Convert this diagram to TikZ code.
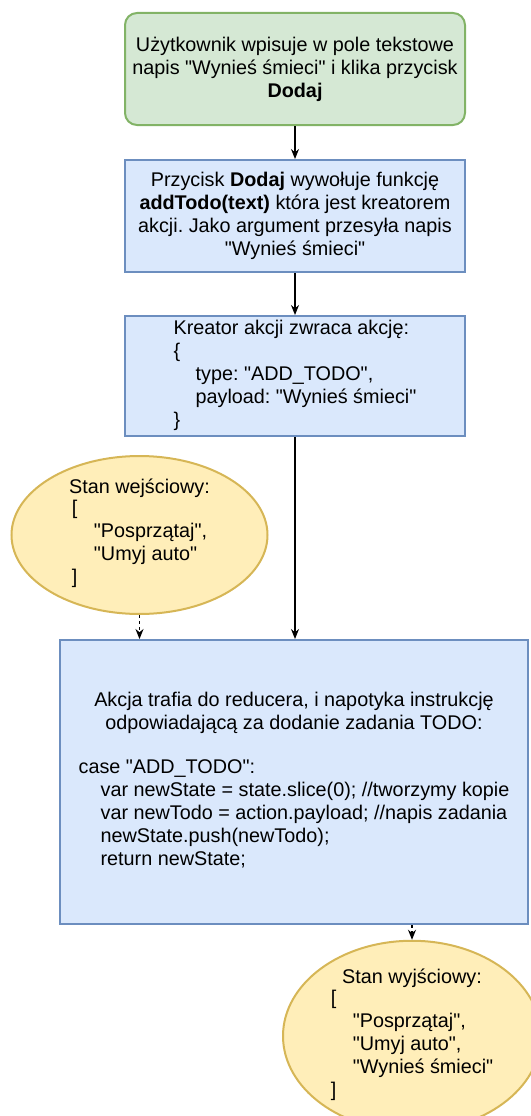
\documentclass[tikz,border=0pt]{standalone}
\usepackage{fontspec}
\setmainfont{Liberation Sans}
\usetikzlibrary{arrows.meta,shapes.geometric}
\newcommand{\ind}{\hspace*{22pt}}
\newcommand{\qt}{\textquotedbl}
\frenchspacing
\begin{document}
\begin{tikzpicture}[x=1pt,y=-1pt,
  txt/.style={font=\fontsize{19.8pt}{23pt}\selectfont, text=black},
  greenbox/.style={txt, draw=custcol_82_b3_66, fill=custcol_d5_e8_d4, line width=2.0pt, rounded corners=12pt, minimum width=340pt, minimum height=112pt, align=center, inner sep=0},
  bluebox/.style={txt, draw=custcol_6c_8e_bf, fill=custcol_da_e8_fc, line width=2.0pt, minimum width=340pt, minimum height=112pt, align=center, inner sep=0},
  yellowell/.style={txt, ellipse, draw=custcol_d6_b6_56, fill=custcol_ff_ee_b9, line width=2.0pt, minimum width=256pt, minimum height=154pt, align=center, inner sep=0},
  arr/.style={-{Stealth[length=10pt,width=8pt]}, line width=1.3pt, black},
  dasharr/.style={arr, dash pattern=on 3pt off 3pt}]
\useasboundingbox (0,0) rectangle (530,1116);
\definecolor{custcol_d5_e8_d4}{RGB}{213, 232, 212}
\definecolor{custcol_82_b3_66}{RGB}{130, 179, 102}
\definecolor{custcol_da_e8_fc}{RGB}{218, 232, 252}
\definecolor{custcol_6c_8e_bf}{RGB}{108, 142, 191}
\definecolor{custcol_ff_ee_b9}{RGB}{255, 238, 185}
\definecolor{custcol_d6_b6_56}{RGB}{214, 182, 86}
\node[greenbox] (user) at (295,69) {U\.zytkownik wpisuje w pole tekstowe\\napis \qt Wynieś śmieci\qt{} i klika przycisk\\\textbf{Dodaj}};
\node[bluebox] (button) at (295,216) {Przycisk \textbf{Dodaj} wywołuje funkcję\\\textbf{addTodo(text)} która jest kreatorem\\akcji. Jako argument przesyła napis\\\qt Wynieś śmieci\qt};
\node[bluebox, minimum height=120pt] (creator) at (295,376) {\begin{tabular}{@{}l@{}}Kreator akcji zwraca akcję:\\\{\\\ind type: \qt ADD\_TODO\qt,\\\ind payload: \qt Wynieś śmieci\qt\\\}\end{tabular}};
\node[yellowell] (instate) at (139.5,535) {Stan wejściowy:\\\begin{tabular}{@{}l@{}}[\\\ind \qt Posprzątaj\qt,\\\ind \qt Umyj auto\qt\\]\end{tabular}};
\node[bluebox, minimum width=468pt, minimum height=284pt] (reducer) at (294,782) {Akcja trafia do reducera, i napotyka instrukcję\\odpowiadającą za dodanie zadania TODO:\\[23pt]\begin{tabular}{@{}l@{}}case \qt ADD\_TODO\qt:\\\ind var newState = state.slice(0); //tworzymy kopie\\\ind var newTodo = action.payload; //napis zadania\\\ind newState.push(newTodo);\\\ind return newState;\end{tabular}};
\node[yellowell, minimum width=258pt, minimum height=156pt] (outstate) at (412,1036) {Stan wyjściowy:\\\begin{tabular}{@{}l@{}}[\\\ind \qt Posprzątaj\qt,\\\ind \qt Umyj auto\qt,\\\ind \qt Wynieś śmieci\qt\\]\end{tabular}};
\draw[arr] (user) -- (button);
\draw[arr] (button) -- (creator);
\draw[arr] (creator.south) -- (creator.south |- reducer.north);
\draw[dasharr] (instate.south) -- (instate.south |- reducer.north);
\draw[dasharr] (reducer.south -| outstate.north) -- (outstate.north);
\end{tikzpicture}
\end{document}
